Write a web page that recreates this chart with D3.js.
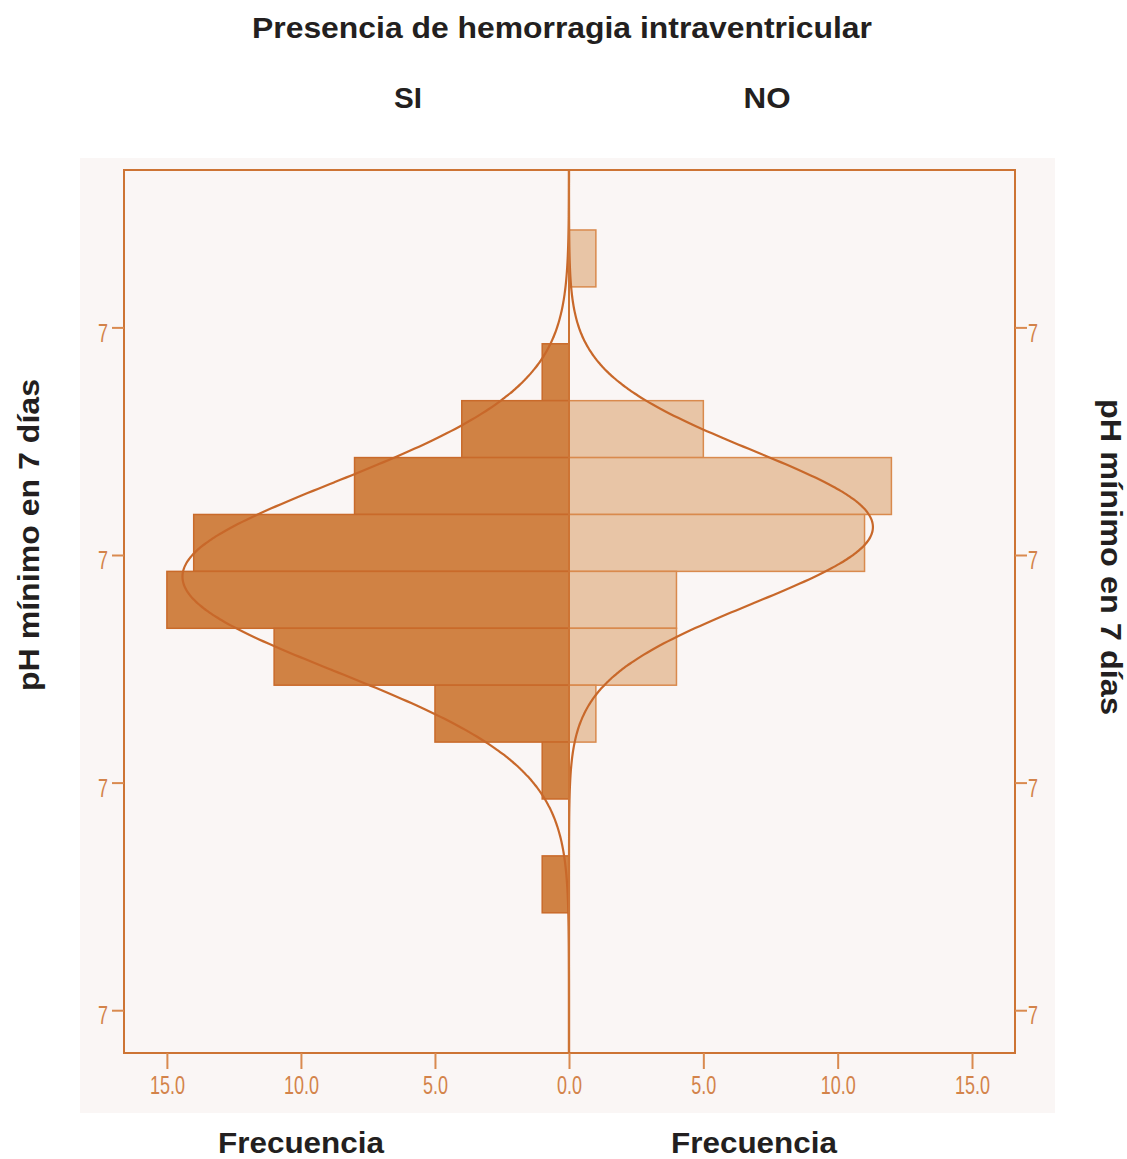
<!DOCTYPE html>
<html><head><meta charset="utf-8">
<script src="https://cdn.jsdelivr.net/npm/d3@7"></script>
<style>
body{margin:0;background:#fff;}
svg{display:block;}
</style></head>
<body>
<svg id="c" width="1127" height="1159"></svg>
<script>
// ---- data ----
const binStarts = [7.2356, 7.1856, 7.1356, 7.0856, 7.0356, 6.9856, 6.9356, 6.8856, 6.8356, 6.7856, 6.7356, 6.6856];
const binWidth = 0.05;
const siCounts = [0, 0, 1, 4, 8, 14, 15, 11, 5, 1, 0, 1];
const noCounts = [1, 0, 0, 5, 12, 11, 4, 4, 1, 0, 0, 0];
const siFit = {mean: 6.981, sd: 0.083, n: 60};
const noFit = {mean: 7.0246, sd: 0.067, n: 38};
const freqTicks = [0, 5, 10, 15];
const phTicks = [7.2, 7.0, 6.8, 6.6];
const title = "Presencia de hemorragia intraventricular";
const groupLabels = ["SI", "NO"];
const xTitle = "Frecuencia";
const yTitle = "pH mínimo en 7 días";

// ---- layout ----
const svg = d3.select("#c");
const L = 124, R = 1015, T = 170, B = 1053, C = 569;
const axisCol = "#cd7434";
const tickCol = "#d98a4f";
const labCol = "#d3834a";
const darkFill = "#d08244", darkStroke = "#c96a2a";
const lightFill = "#e8c5a6", lightStroke = "#d98a4d";
const curveCol = "#c8682a";

svg.append("rect").attr("x", 80).attr("y", 158).attr("width", 975).attr("height", 955).attr("fill", "#faf6f5");

const y = d3.scaleLinear().domain([6.5624, 7.3383]).range([B, T]);
const xL = d3.scaleLinear().domain([0, 16.6]).range([C, L]);
const xR = d3.scaleLinear().domain([0, 16.6]).range([C, R]);

// bars
const bins = binStarts.map((s, i) => ({s, si: siCounts[i], no: noCounts[i]}));
svg.append("g").selectAll("rect").data(bins.filter(d => d.si > 0)).join("rect")
  .attr("x", d => xL(d.si)).attr("width", d => xL(0) - xL(d.si))
  .attr("y", d => y(d.s + binWidth)).attr("height", d => y(d.s) - y(d.s + binWidth))
  .attr("fill", darkFill).attr("stroke", darkStroke).attr("stroke-width", 1.5);
svg.append("g").selectAll("rect").data(bins.filter(d => d.no > 0)).join("rect")
  .attr("x", xR(0)).attr("width", d => xR(d.no) - xR(0))
  .attr("y", d => y(d.s + binWidth)).attr("height", d => y(d.s) - y(d.s + binWidth))
  .attr("fill", lightFill).attr("stroke", lightStroke).attr("stroke-width", 1.5);

// normal curves
function dens(v, f) { return f.n * binWidth / (f.sd * Math.sqrt(2 * Math.PI)) * Math.exp(-0.5 * ((v - f.mean) / f.sd) ** 2); }
const ys = d3.range(400).map(i => 6.5624 + i * (7.3383 - 6.5624) / 399);
svg.append("path").datum(ys)
  .attr("d", d3.line().x(v => xL(dens(v, siFit))).y(v => y(v)).curve(d3.curveBasis))
  .attr("fill", "none").attr("stroke", curveCol).attr("stroke-width", 2.2);
svg.append("path").datum(ys)
  .attr("d", d3.line().x(v => xR(dens(v, noFit))).y(v => y(v)).curve(d3.curveBasis))
  .attr("fill", "none").attr("stroke", curveCol).attr("stroke-width", 2.2);

// frame and center line
svg.append("rect").attr("x", L).attr("y", T).attr("width", R - L).attr("height", B - T)
  .attr("fill", "none").attr("stroke", axisCol).attr("stroke-width", 2);
svg.append("line").attr("x1", C).attr("x2", C).attr("y1", T).attr("y2", B)
  .attr("stroke", axisCol).attr("stroke-width", 2);

const fmtX = d3.format(".1f");
const fmtY = d3.format(".0f");
const tickFont = "'Liberation Sans',Arial,sans-serif";
const sx = 0.72;

function styleAxis(g) {
  g.select(".domain").remove();
  g.selectAll(".tick line").attr("stroke", tickCol).attr("stroke-width", 2);
  g.selectAll(".tick text").attr("fill", labCol).attr("font-size", 25).attr("font-family", tickFont);
}
const axL = svg.append("g").attr("transform", `translate(0,${B})`)
  .call(d3.axisBottom(xL).tickValues(freqTicks).tickFormat(fmtX).tickSize(16).tickPadding(7));
styleAxis(axL);
const axR = svg.append("g").attr("transform", `translate(0,${B})`)
  .call(d3.axisBottom(xR).tickValues(freqTicks.filter(d => d > 0)).tickFormat(fmtX).tickSize(16).tickPadding(7));
styleAxis(axR);
[axL, axR].forEach(g => g.selectAll(".tick text").attr("transform", `scale(${sx},1)`));
const ayL = svg.append("g").attr("transform", `translate(${L},0)`)
  .call(d3.axisLeft(y).tickValues(phTicks).tickFormat(fmtY).tickSize(12).tickPadding(3));
styleAxis(ayL);
const ayR = svg.append("g").attr("transform", `translate(${R},0)`)
  .call(d3.axisRight(y).tickValues(phTicks).tickFormat(fmtY).tickSize(12).tickPadding(3));
styleAxis(ayR);
ayL.selectAll(".tick text").attr("x", -16 / sx).attr("dy", "0.55em").attr("transform", `scale(${sx},1)`);
ayR.selectAll(".tick text").attr("x", 13 / sx).attr("dy", "0.55em").attr("transform", `scale(${sx},1)`);

// titles
const tf = "'Liberation Sans',Arial,sans-serif";
const tc = "#231f20";
function bold(txt, tr, len) {
  svg.append("text").attr("transform", tr).attr("text-anchor", "middle")
    .attr("font-family", tf).attr("font-weight", "bold").attr("font-size", 30).attr("fill", tc)
    .attr("textLength", len).attr("lengthAdjust", "spacingAndGlyphs").text(txt);
}
bold(title, "translate(562,38)", 620);
bold(groupLabels[0], "translate(408,108)", 28);
bold(groupLabels[1], "translate(767,108)", 47);
bold(xTitle, "translate(301,1153)", 166);
bold(xTitle, "translate(754,1153)", 166);
bold(yTitle, "translate(39,535) rotate(-90)", 312);
bold(yTitle, "translate(1101,557) rotate(90)", 316);
</script>
</body></html>
